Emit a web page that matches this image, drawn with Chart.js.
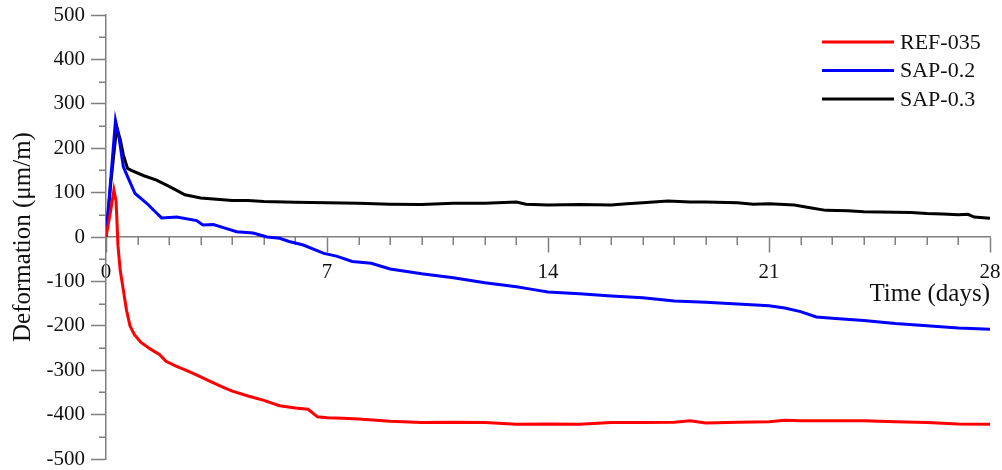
<!DOCTYPE html>
<html>
<head>
<meta charset="utf-8">
<script src="https://cdn.jsdelivr.net/npm/chart.js@4.4.1/dist/chart.umd.min.js"></script>
<style>
  html, body { margin: 0; padding: 0; background: #ffffff; }
  #wrap { width: 1002px; height: 470px; }
</style>
</head>
<body>
<div id="wrap"><canvas id="c" width="1002" height="470"></canvas></div>
<script>
// ---- Data ----
const seriesNames = ['REF-035', 'SAP-0.2', 'SAP-0.3'];
const seriesColors = ['#ff0000', '#0000ff', '#000000'];

const refDays = [0, 0.15, 0.25, 0.32, 0.38, 0.45, 0.55, 0.65, 0.76, 0.9, 1.1, 1.4, 1.7, 1.9, 2.2, 2.6, 3.0, 3.3, 3.7, 4.0, 4.5, 5.0, 5.5, 6.0, 6.4, 6.7, 7.0, 7.5, 8.0, 9, 10, 11, 12, 13, 14, 15, 16, 17, 18, 18.5, 19, 20, 21, 21.5, 22, 23, 24, 25, 26, 27, 28];
const refValues = [0, 60, 106, 80, -20, -75, -120, -165, -200, -220, -237, -252, -265, -280, -290, -302, -315, -325, -338, -347, -358, -368, -380, -385, -388, -405, -407, -408, -410, -415, -418, -417, -418, -422, -421, -422, -418, -418, -417, -414, -419, -417, -416, -413, -414, -414, -414, -416, -418, -421, -422];

const sap2Days = [0, 0.15, 0.3, 0.42, 0.55, 0.7, 0.92, 1.29, 1.6, 1.76, 2.24, 2.87, 3.07, 3.4, 3.82, 4.14, 4.66, 5.1, 5.5, 5.8, 6.25, 6.9, 7.3, 7.8, 8.4, 9, 10, 11, 12, 13, 13.5, 14, 15, 16, 17, 18, 19, 20, 21, 21.5, 22, 22.5, 23, 24, 25, 26, 27, 28];
const sap2Values = [0, 130, 262, 220, 158, 133, 98, 76, 54, 43, 45, 37, 27, 28, 19, 12, 9, 0, -3, -10, -18, -37, -43, -55, -59, -72, -83, -92, -103, -112, -118, -124, -128, -133, -137, -144, -147, -151, -155, -160, -168, -180, -183, -188, -195, -200, -205, -208];

const sap3Days = [0, 0.15, 0.34, 0.45, 0.55, 0.68, 0.8, 1.2, 1.6, 2.0, 2.5, 3.0, 3.5, 4.0, 4.5, 5, 6, 7, 8, 9, 10, 11, 12, 13, 13.3, 14, 15, 16, 16.5, 17, 17.8, 18.5, 19, 20, 20.5, 21, 21.8, 22.3, 22.8, 23.5, 24, 25, 25.5, 26, 26.5, 27, 27.3, 27.5, 28];
const sap3Values = [0, 120, 248, 220, 185, 155, 150, 138, 128, 114, 95, 88, 85, 82, 82, 80, 78, 77, 76, 74, 73, 76, 76, 79, 74, 72, 73, 72, 75, 77, 81, 79, 79, 77, 74, 75, 72, 66, 60, 59, 57, 56, 55, 53, 52, 50, 51, 45, 42];

const xTickLabels = [0, 7, 14, 21, 28];
const yTickLabels = [-500, -400, -300, -200, -100, 0, 100, 200, 300, 400, 500];

const xTitle = 'Time (days)';
const yTitle = 'Deformation (\u03BCm/m)';

// ---- Styling ----
const FONT = '"Liberation Serif", "Times New Roman", serif';
const AXIS_GRAY = '#7f7f7f';
const TEXT = '#111111';

function toPoints(xs, ys) { return xs.map((x, i) => ({ x: x, y: ys[i] })); }

const datasets = [
  toPoints(refDays, refValues),
  toPoints(sap2Days, sap2Values),
  toPoints(sap3Days, sap3Values)
].map((pts, i) => ({
  label: seriesNames[i],
  data: pts,
  borderColor: seriesColors[i],
  backgroundColor: seriesColors[i],
  borderWidth: 3,
  pointRadius: 0,
  tension: 0,
  fill: false
}));

// minor ticks + in-plot legend
const decorPlugin = {
  id: 'decor',
  beforeDatasetsDraw(chart) {
    const ctx = chart.ctx;
    const xs = chart.scales.x, ys = chart.scales.y;
    ctx.save();
    ctx.strokeStyle = AXIS_GRAY;
    ctx.lineWidth = 1.5;
    const y0 = ys.getPixelForValue(0);
    xs.ticks.forEach(t => {
      if (xTickLabels.indexOf(t.value) === -1) {
        const px = Math.round(xs.getPixelForValue(t.value)) + 0.25;
        ctx.beginPath(); ctx.moveTo(px, y0); ctx.lineTo(px, y0 + 8); ctx.stroke();
      }
    });
    const left = chart.chartArea.left;
    ys.ticks.forEach(t => {
      if (yTickLabels.indexOf(t.value) === -1) {
        const py = Math.round(ys.getPixelForValue(t.value)) + 0.25;
        ctx.beginPath(); ctx.moveTo(left, py); ctx.lineTo(left - 7, py); ctx.stroke();
      }
    });
    ctx.restore();
  },
  afterDraw(chart) {
    const ctx = chart.ctx;
    const ca = chart.chartArea;
    ctx.save();
    ctx.font = '22px ' + FONT;
    ctx.textBaseline = 'middle';
    ctx.textAlign = 'left';
    const x1 = ca.right - 168, x2 = ca.right - 96, tx = ca.right - 90;
    chart.data.datasets.forEach((ds, i) => {
      const y = ca.top + 27 + i * 28.5;
      ctx.strokeStyle = ds.borderColor;
      ctx.lineWidth = 3;
      ctx.beginPath(); ctx.moveTo(x1, y); ctx.lineTo(x2, y); ctx.stroke();
      ctx.fillStyle = TEXT;
      ctx.fillText(ds.label, tx, y + 1);
    });
    ctx.restore();
  }
};

new Chart(document.getElementById('c'), {
  type: 'line',
  data: { datasets: datasets },
  plugins: [decorPlugin],
  options: {
    responsive: false,
    devicePixelRatio: 1,
    animation: false,
    layout: { padding: { top: 15, bottom: 11, left: 0, right: 12 } },
    plugins: { legend: { display: false }, tooltip: { enabled: false } },
    scales: {
      x: {
        type: 'linear',
        min: 0, max: 28,
        position: { y: 0 },
        afterFit: s => { s.paddingLeft = 0; s.paddingRight = 0; },
        border: { display: true, color: AXIS_GRAY, width: 1.5 },
        grid: {
          drawOnChartArea: false, drawTicks: true, tickLength: 15, tickWidth: 1.5,
          tickColor: c => (c.tick && xTickLabels.indexOf(c.tick.value) !== -1) ? AXIS_GRAY : 'rgba(0,0,0,0)'
        },
        ticks: {
          stepSize: 1, autoSkip: false, maxRotation: 0, padding: 8,
          color: TEXT, font: { family: FONT, size: 21 },
          callback: v => (xTickLabels.indexOf(v) !== -1 ? String(v) : '')
        },
        title: {
          display: true, text: xTitle, align: 'end', color: TEXT,
          font: { family: FONT, size: 25 }, padding: { top: -14, bottom: 0 }
        }
      },
      y: {
        type: 'linear',
        min: -500, max: 500,
        position: 'left',
        afterFit: s => { s.width = 106; s.paddingTop = 0; s.paddingBottom = 0; },
        border: { display: true, color: AXIS_GRAY, width: 1.5 },
        grid: {
          drawOnChartArea: false, drawTicks: true, tickLength: 15, tickWidth: 1.5,
          tickColor: c => (c.tick && yTickLabels.indexOf(c.tick.value) !== -1) ? AXIS_GRAY : 'rgba(0,0,0,0)'
        },
        ticks: {
          stepSize: 50, autoSkip: false, padding: 6,
          color: TEXT, font: { family: FONT, size: 21 },
          callback: v => (yTickLabels.indexOf(v) !== -1 ? String(v) : '')
        },
        title: {
          display: true, text: yTitle, color: TEXT,
          font: { family: FONT, size: 25 }, padding: { top: 8, bottom: 0 }
        }
      }
    }
  }
});
</script>
</body>
</html>
